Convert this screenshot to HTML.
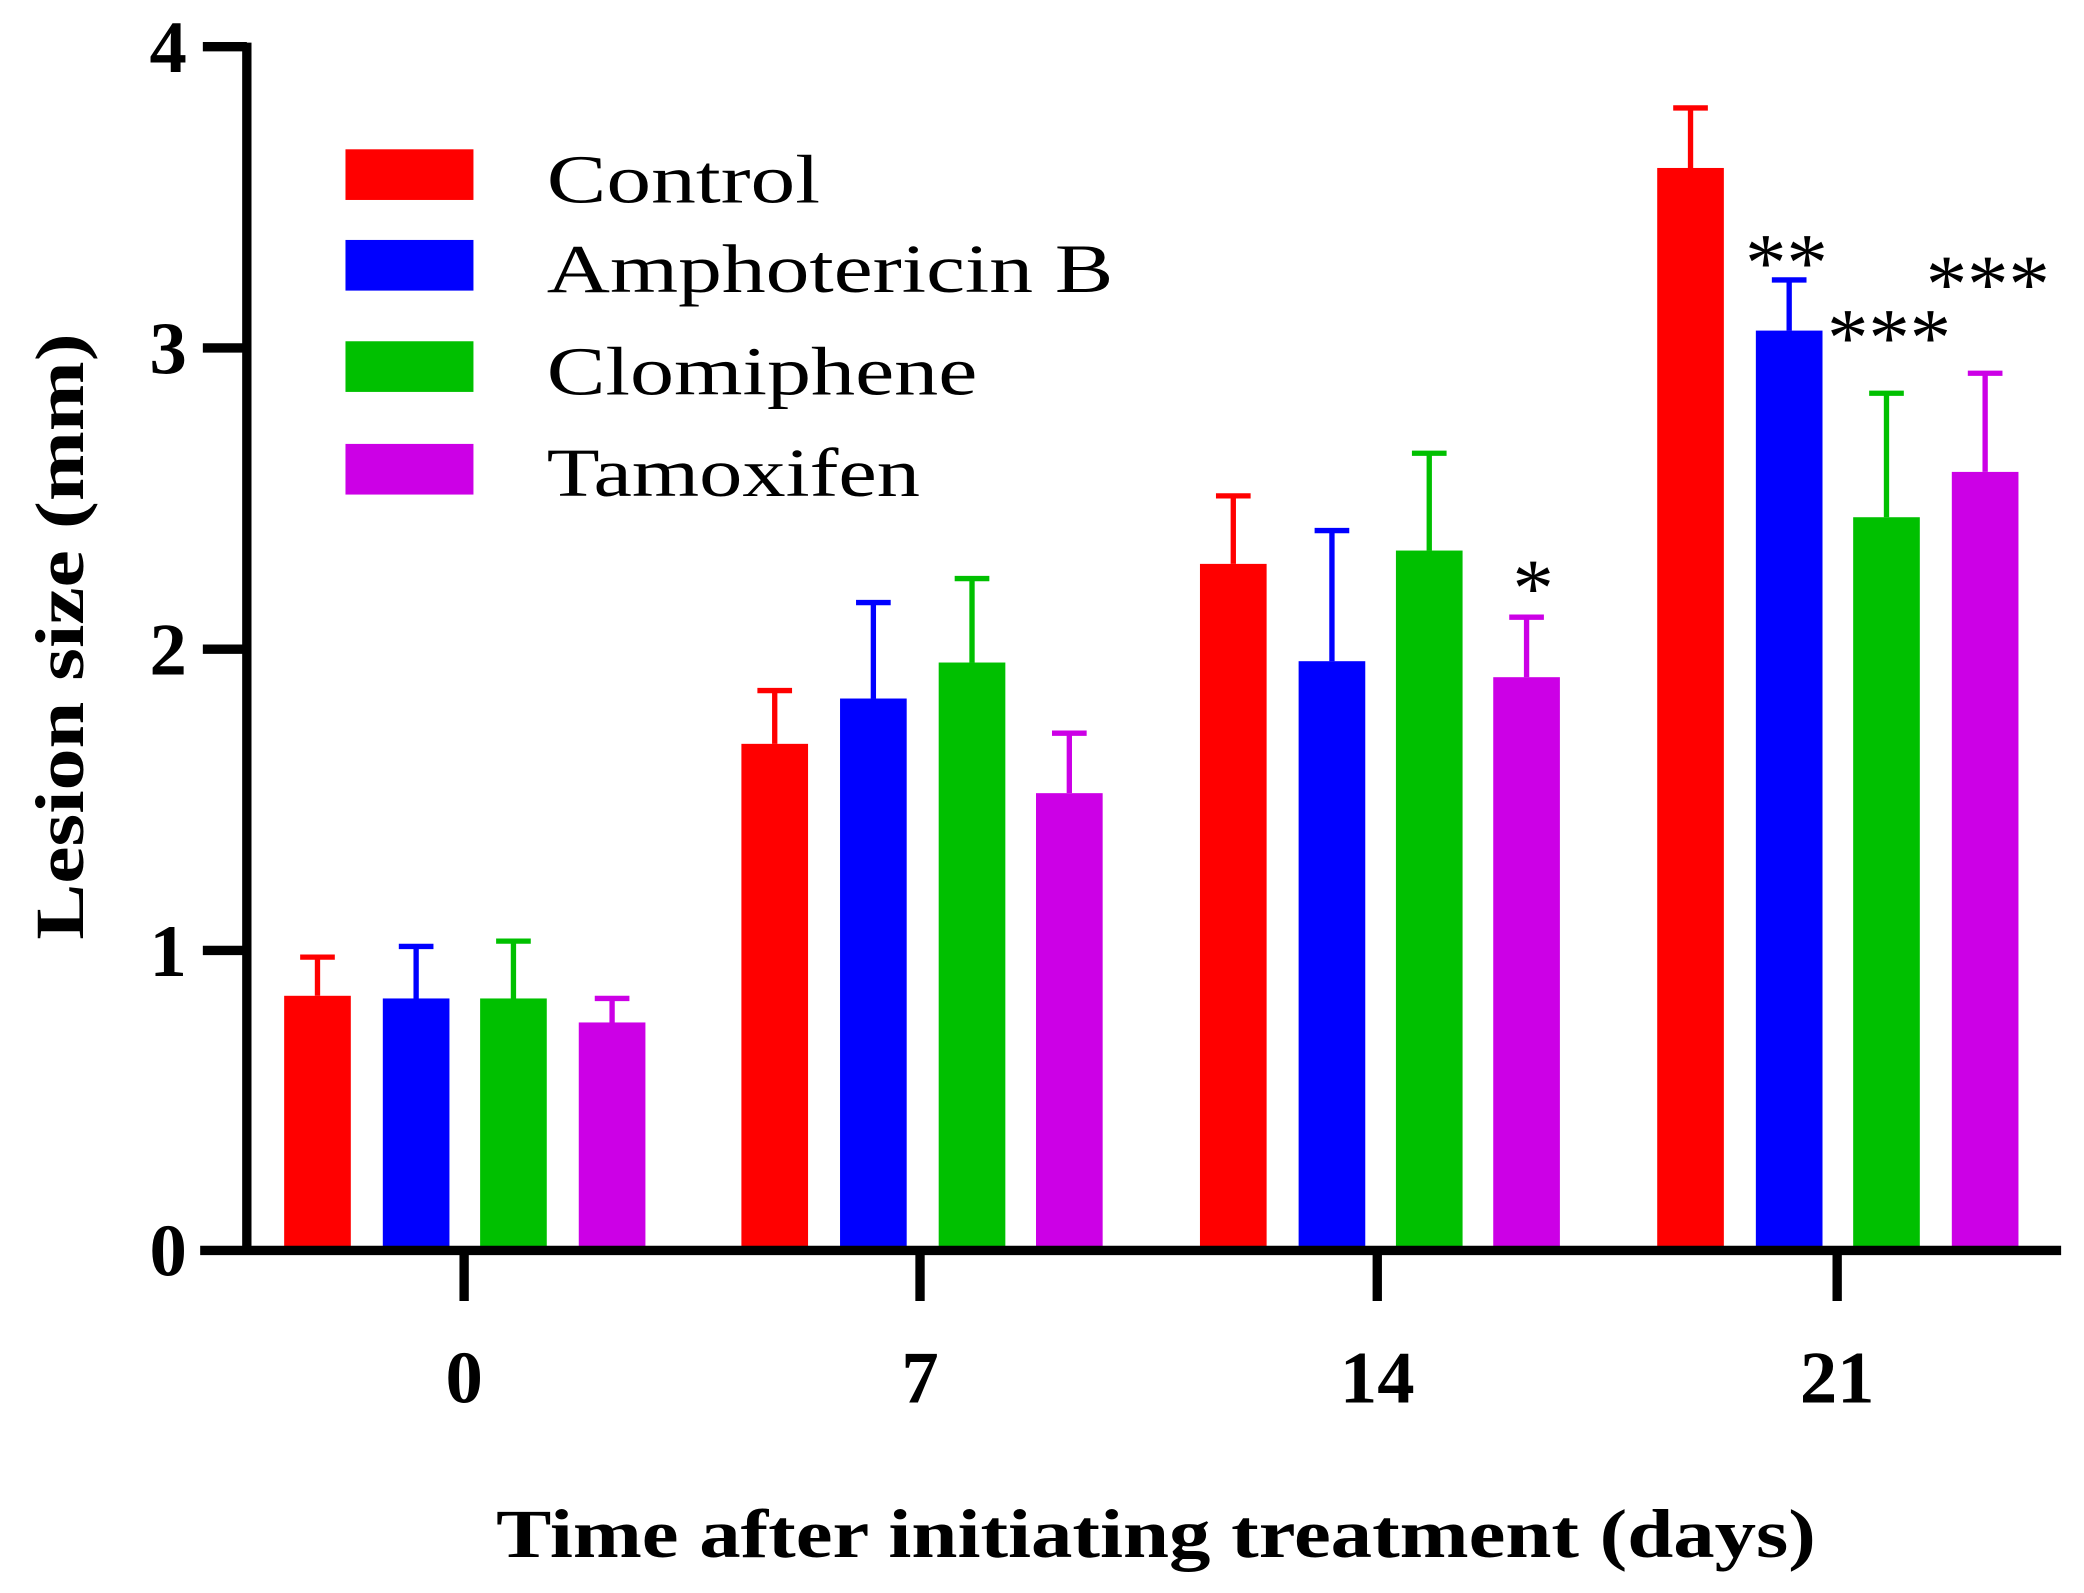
<!DOCTYPE html>
<html><head><meta charset="utf-8"><style>html,body{margin:0;padding:0;background:#fff}svg{display:block}</style></head>
<body>
<svg width="2084" height="1593" viewBox="0 0 1563 1195" xmlns="http://www.w3.org/2000/svg" font-family="'Liberation Serif', serif">
<rect width="1563" height="1195" fill="#fff"/>
<g stroke-width="4">
<rect x="213" y="747" width="50" height="191" fill="#ff0000"/><path d="M238 747V718M225 718H251" stroke="#ff0000"/>
<rect x="287" y="749" width="50" height="189" fill="#0000ff"/><path d="M312 749V710M299 710H325" stroke="#0000ff"/>
<rect x="360" y="749" width="50" height="189" fill="#00c000"/><path d="M385 749V706M372 706H398" stroke="#00c000"/>
<rect x="434" y="767" width="50" height="171" fill="#cc00e6"/><path d="M459 767V749M446 749H472" stroke="#cc00e6"/>
<rect x="556" y="558" width="50" height="380" fill="#ff0000"/><path d="M581 558V518M568 518H594" stroke="#ff0000"/>
<rect x="630" y="524" width="50" height="414" fill="#0000ff"/><path d="M655 524V452M642 452H668" stroke="#0000ff"/>
<rect x="704" y="497" width="50" height="441" fill="#00c000"/><path d="M729 497V434M716 434H742" stroke="#00c000"/>
<rect x="777" y="595" width="50" height="343" fill="#cc00e6"/><path d="M802 595V550M789 550H815" stroke="#cc00e6"/>
<rect x="900" y="423" width="50" height="515" fill="#ff0000"/><path d="M925 423V372M912 372H938" stroke="#ff0000"/>
<rect x="974" y="496" width="50" height="442" fill="#0000ff"/><path d="M999 496V398M986 398H1012" stroke="#0000ff"/>
<rect x="1047" y="413" width="50" height="525" fill="#00c000"/><path d="M1072 413V340M1059 340H1085" stroke="#00c000"/>
<rect x="1120" y="508" width="50" height="430" fill="#cc00e6"/><path d="M1145 508V463M1132 463H1158" stroke="#cc00e6"/>
<rect x="1243" y="126" width="50" height="812" fill="#ff0000"/><path d="M1268 126V81M1255 81H1281" stroke="#ff0000"/>
<rect x="1317" y="248" width="50" height="690" fill="#0000ff"/><path d="M1342 248V210M1329 210H1355" stroke="#0000ff"/>
<rect x="1390" y="388" width="50" height="550" fill="#00c000"/><path d="M1415 388V295M1402 295H1428" stroke="#00c000"/>
<rect x="1464" y="354" width="50" height="584" fill="#cc00e6"/><path d="M1489 354V280M1476 280H1502" stroke="#cc00e6"/>
</g>
<g stroke="#000" stroke-width="7" fill="none">
<path d="M185 32V941"/>
<path d="M150 938H1546"/>
<path d="M152 35H185M152 261H185M152 487H185M152 713H185"/>
<path d="M348 938V976M690 938V976M1033 938V976M1378 938V976"/>
</g>
<g font-weight="bold" font-size="56" fill="#000">
<text x="140" y="54" text-anchor="end">4</text>
<text x="140" y="280" text-anchor="end">3</text>
<text x="140" y="506" text-anchor="end">2</text>
<text x="140" y="732" text-anchor="end">1</text>
<text x="140" y="957" text-anchor="end">0</text>
<text x="348" y="1052" text-anchor="middle">0</text>
<text x="690" y="1052" text-anchor="middle">7</text>
<text x="1033" y="1052" text-anchor="middle">14</text>
<text x="1378" y="1052" text-anchor="middle">21</text>
</g>
<text x="372" y="1168" font-weight="bold" font-size="52" textLength="990" lengthAdjust="spacingAndGlyphs">Time after initiating treatment (days)</text>
<text transform="translate(62,705) rotate(-90)" font-weight="bold" font-size="52" textLength="455" lengthAdjust="spacingAndGlyphs">Lesion size (mm)</text>
<rect x="259" y="112" width="96" height="38" fill="#ff0000"/>
<rect x="259" y="180" width="96" height="38" fill="#0000ff"/>
<rect x="259" y="256" width="96" height="38" fill="#00c000"/>
<rect x="259" y="333" width="96" height="38" fill="#cc00e6"/>
<g font-size="52" fill="#000">
<text x="410" y="152" textLength="205" lengthAdjust="spacingAndGlyphs">Control</text>
<text x="410" y="219" textLength="425" lengthAdjust="spacingAndGlyphs">Amphotericin B</text>
<text x="410" y="296" textLength="323" lengthAdjust="spacingAndGlyphs">Clomiphene</text>
<text x="410" y="372" textLength="280" lengthAdjust="spacingAndGlyphs">Tamoxifen</text>
</g>
<g font-size="62" fill="#000" text-anchor="middle">
<text x="1150" y="462">*</text>
<text x="1340" y="218">**</text>
<text x="1417" y="274">***</text>
<text x="1491" y="234">***</text>
</g>
</svg>
</body></html>
